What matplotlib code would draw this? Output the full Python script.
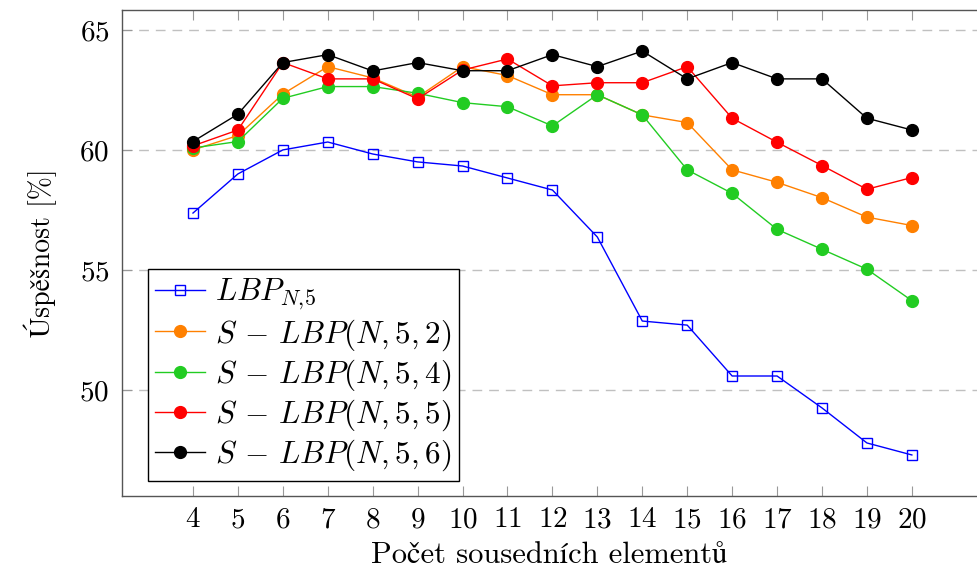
import numpy as np
import matplotlib
matplotlib.use('Agg')
import matplotlib.pyplot as plt

plt.rcParams['font.family'] = ['cmr10', 'STIXGeneral']
plt.rcParams['mathtext.fontset'] = 'cm'
plt.rcParams['axes.formatter.use_mathtext'] = True
plt.rcParams['font.size'] = 21

# data
n = [4, 5, 6, 7, 8, 9, 10, 11, 12, 13, 14, 15, 16, 17, 18, 19, 20]
lbp = [57.37, 59.0, 60.0, 60.33, 59.83, 59.5, 59.33, 58.83, 58.33, 56.37,
       52.87, 52.7, 50.58, 50.58, 49.25, 47.79, 47.29]
slbp2 = [60.0, 60.6, 62.33, 63.47, 63.0, 62.2, 63.47, 63.1, 62.3, 62.3,
         61.46, 61.14, 59.17, 58.65, 58.01, 57.2, 56.85]
slbp4 = [60.08, 60.35, 62.15, 62.64, 62.64, 62.36, 61.97, 61.8, 61.0, 62.3,
         61.46, 59.17, 58.19, 56.69, 55.86, 55.03, 53.72]
slbp5 = [60.17, 60.83, 63.64, 62.96, 62.96, 62.13, 63.33, 63.79, 62.67, 62.8,
         62.8, 63.47, 61.32, 60.32, 59.35, 58.36, 58.85]
slbp6 = [60.35, 61.49, 63.64, 63.97, 63.29, 63.64, 63.3, 63.3, 63.97, 63.47,
         64.12, 62.96, 63.64, 62.96, 62.96, 61.32, 60.83]

labels = [r'$LBP_{N,\!5}$', r'$S\,-\,LBP(N,5,2)$', r'$S\,-\,LBP(N,5,4)$',
          r'$S\,-\,LBP(N,5,5)$', r'$S\,-\,LBP(N,5,6)$']

fig = plt.figure(figsize=(9.77, 5.73), dpi=100)
ax = fig.add_axes([122/977, 77/573, 855/977, 486/573])

ax.plot(n, lbp, color='#0000ff', lw=1.0, marker='s', ms=7.5,
        mfc='none', mec='#0000ff', mew=1.0, label=labels[0])
cols = ['#ff8000', '#22cc22', '#ff0000', '#000000']
for ys, c, lab in zip([slbp2, slbp4, slbp5, slbp6], cols, labels[1:]):
    ax.plot(n, ys, color=c, lw=1.0, marker='o', ms=8.5, mfc=c, mec=c, label=lab)

ax.set_xlim(2.42, 21.45)
ax.set_ylim(45.58, 65.83)
ax.set_xticks(n)
ax.set_yticks([50, 55, 60, 65])
ax.yaxis.grid(True, color='#c0c0c0', lw=1.0, linestyle=(0, (7, 5)))
ax.set_axisbelow(True)

for s in ['left', 'bottom', 'top']:
    ax.spines[s].set_color('#555555')
    ax.spines[s].set_linewidth(1.0)
ax.spines['right'].set_visible(False)
ax.tick_params(axis='x', direction='in', length=7, width=0.8, color='#999999',
               top=True, pad=8)
ax.tick_params(axis='y', direction='in', length=7, width=0.8, color='#999999',
               pad=9)

ax.set_xlabel('Počet sousedních elementů', fontsize=22, labelpad=6)
ax.set_ylabel('Úspěšnost [%]', fontsize=20, labelpad=16)

leg = ax.legend(loc='lower left', bbox_to_anchor=(0.03, 0.031), borderaxespad=0,
                fancybox=False, framealpha=1, edgecolor='black', fontsize=22.5,
                handlelength=1.6, handletextpad=0.3, labelspacing=0.15,
                borderpad=0.25)
leg.get_frame().set_linewidth(1.0)

plt.savefig('out.png', dpi=100)
plt.close()
